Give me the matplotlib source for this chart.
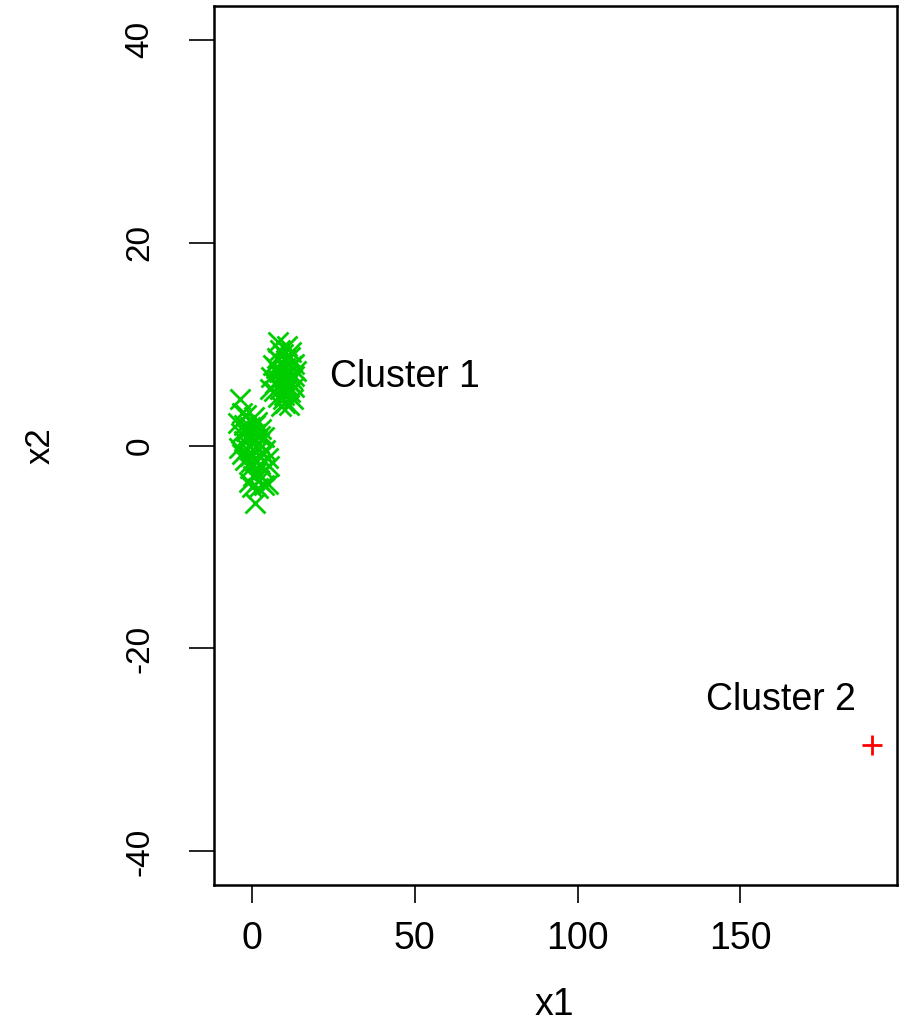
import matplotlib
matplotlib.use("Agg")
import matplotlib.pyplot as plt

plt.rcParams['font.family'] = ['Liberation Sans', 'DejaVu Sans']
plt.rcParams['axes.unicode_minus'] = False

# ---------- data ----------
# cluster 1, upper group
c1a_x = [8.0, 10.8, 9.5, 7.5, 11.5, 12.8, 9.0, 6.5, 10.2, 13.5, 8.2, 11.0, 5.8, 12.3,
         9.6, 7.0, 10.8, 13.0, 8.5, 5.5, 11.6, 9.8, 7.8, 12.5, 10.2, 8.8, 11.2, 9.2,
         10.5, 12.0, 7.2, 8.6, 11.8, 9.9, 10.6, 6.8, 12.9, 8.0, 11.3, 9.4]
c1a_y = [10.2, 9.8, 9.0, 8.6, 8.7, 8.0, 8.2, 7.9, 7.6, 7.3, 7.2, 7.0, 6.8, 6.6,
         6.4, 6.2, 6.0, 5.8, 5.6, 5.6, 5.3, 5.0, 4.8, 4.6, 4.2, 3.9, 4.0, 6.8,
         8.4, 7.8, 7.6, 9.4, 9.2, 7.0, 5.6, 5.4, 6.9, 6.5, 6.4, 4.6]
# cluster 1, lower group
c1b_x = [-3.7, -3.0, -1.8, 0.5, -4.2, -2.4, 1.6, -0.8, 2.8, -3.5, -1.2, 0.9, 3.5, -2.6,
         0.0, 2.0, -4.0, -1.5, 1.2, 3.2, -0.5, 4.8, -2.2, 0.8, 2.5, 5.2, -0.8, 1.5,
         3.8, 0.3, 2.2, -0.9, 0.0, 1.8, 3.7, 5.0, 0.9, -1.8, 1.0, -3.0, 2.5, -0.3, 4.0]
c1b_y = [4.6, 3.2, 3.0, 2.8, 2.2, 2.0, 2.3, 1.8, 1.6, 1.2, 1.0, 1.1, 0.8, 0.4,
         0.3, 0.2, -0.2, -0.3, -0.6, -0.8, -1.0, -1.2, -1.4, -1.5, -1.8, -2.0, -2.2, -2.6,
         -2.4, -3.0, -3.4, -3.6, -4.1, -4.2, -3.9, -3.8, -5.7, 1.4, 2.0, -0.8, 0.9, -1.6, -0.4]
# cluster 2
c2_x = [190.5]
c2_y = [-29.5]

labels = ["Cluster 1", "Cluster 2"]
label_x = [24, 139.5]
label_y = [6.8, -25.1]

x_ticks = [0, 50, 100, 150]
y_ticks = [-40, -20, 0, 20, 40]

# ---------- plot ----------
fig = plt.figure(figsize=(9.07, 10.23), dpi=100)
ax = fig.add_axes([0.236, 0.135, 0.753, 0.859])

green = '#00CD00'
ax.plot(c1a_x + c1b_x, c1a_y + c1b_y, linestyle='none', marker='x', color=green,
        markersize=14, markeredgewidth=2.0)
ax.plot(c2_x, c2_y, linestyle='none', marker='+', color='red',
        markersize=15, markeredgewidth=2.0)

for t, x, y in zip(labels, label_x, label_y):
    ax.text(x, y, t, ha='left', va='center', fontsize=27)

ax.set_xlim(-11.7, 198.2)
ax.set_ylim(-43.3, 43.3)
ax.set_xticks(x_ticks)
ax.set_yticks(y_ticks)

for s in ax.spines.values():
    s.set_linewidth(1.8)

ax.tick_params(axis='x', direction='out', length=13, width=1.2, pad=13, labelsize=27)
ax.tick_params(axis='y', direction='out', length=18, width=1.2, pad=24, labelsize=24)
for lab in ax.get_yticklabels():
    lab.set_rotation(90)
    lab.set_va('center')

ax.set_xlabel("x1", fontsize=27)
ax.set_ylabel("x2", fontsize=25)
ax.xaxis.label.set_va('center')
ax.yaxis.label.set_va('center')
ax.xaxis.set_label_coords(0.499, -0.137)
ax.yaxis.set_label_coords(-0.255, 0.5)

fig.savefig("out.png", dpi=100)
